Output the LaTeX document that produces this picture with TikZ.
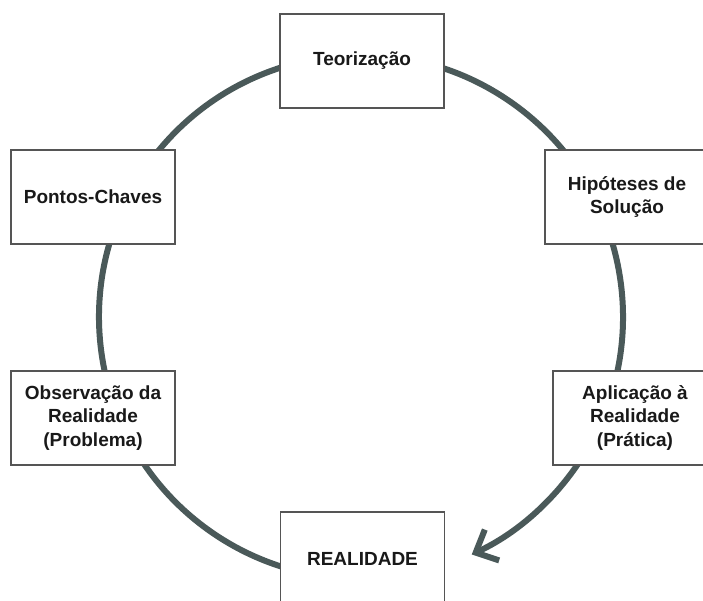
\documentclass[tikz,border=0pt]{standalone}
\usepackage{fontspec}
\setmainfont{Liberation Sans}
\usetikzlibrary{arrows.meta}
\definecolor{cycleline}{RGB}{74,89,89}
\definecolor{boxline}{RGB}{85,85,85}
\definecolor{boxtext}{RGB}{25,25,25}
\tikzset{
	stagebox/.style={draw=boxline, line width=1.3pt, fill=white, minimum width=164pt, minimum height=94pt, inner sep=0pt, align=center, text=boxtext, font=\fontsize{19}{23.5}\selectfont\bfseries},
	cycleline/.style={draw=cycleline, line width=6pt},
}

\begin{document}
\begin{tikzpicture}[x=1pt, y=1pt]
		%%%%% START %%%%%
		
		\useasboundingbox (0, 0) rectangle (703, -601);
		\clip (0, 0) rectangle (703, -601);
		
		\coordinate (centre) at (361, -317);
		\draw[cycleline] (centre) ++(-34:262) arc (-34:285:262);
		\draw[cycleline, -{Straight Barb[length=18pt, width=34pt]}] (centre) ++(-33:262) arc (-33:-65:262);
		
		\node[stagebox] (teoria) at (362, -61) {Teorização};
		\node[stagebox] (pontos) at (93, -197) {Pontos-Chaves};
		\node[stagebox] (hipoteses) at (627, -197) {Hipóteses de\\Solução};
		\node[stagebox] (observacao) at (93, -418) {Observação da\\Realidade\\(Problema)};
		\node[stagebox] (aplicacao) at (635, -418) {Aplicação à\\Realidade\\(Prática)};
		\node[stagebox] (realidade) at (362.5, -559) {REALIDADE};
		
		%%%%% END %%%%%
\end{tikzpicture}
\end{document}
